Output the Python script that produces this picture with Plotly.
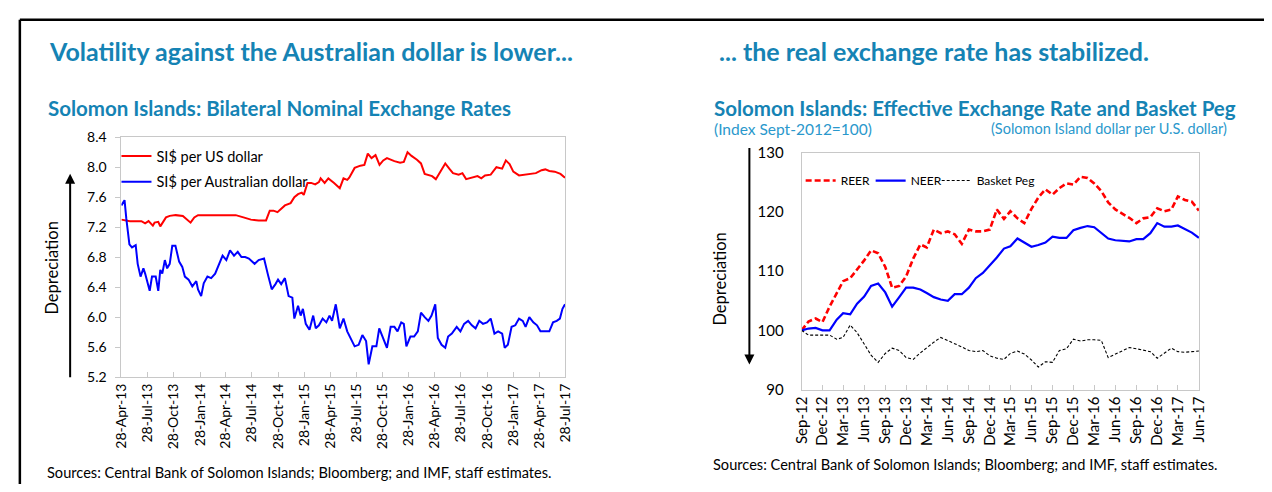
import pandas as pd
import plotly.graph_objects as go

# ---------------- data: left chart (bilateral nominal rates) ----------------
START_LEFT = "2013-04-28"
usd_days = [0, 30, 70, 83, 95, 110, 116, 129, 136, 143, 156, 169, 190, 215, 229, 242, 255, 268, 330, 400,
            427, 453, 480, 506, 519, 532, 546, 559, 572, 592, 605, 618, 631, 638, 651, 664, 678, 691, 697, 711,
            724, 744, 764, 777, 790, 797, 816, 836, 850, 862, 875, 889, 903, 916, 929, 942, 955, 975, 988, 1001,
            1015, 1034, 1048, 1061, 1074, 1087, 1100, 1114, 1133, 1147, 1160, 1180, 1193, 1206, 1226, 1246, 1259,
            1272, 1292, 1312, 1332, 1345, 1358, 1371, 1391, 1411, 1431, 1450, 1470, 1483, 1497, 1516, 1536, 1552]
usd_vals = [7.30, 7.28, 7.28, 7.25, 7.28, 7.22, 7.26, 7.27, 7.21, 7.25, 7.33, 7.35, 7.36, 7.35, 7.30, 7.26,
            7.33, 7.36, 7.36, 7.36, 7.33, 7.30, 7.29, 7.29, 7.42, 7.42, 7.40, 7.44, 7.49, 7.52, 7.60, 7.64,
            7.66, 7.63, 7.79, 7.79, 7.77, 7.80, 7.85, 7.79, 7.85, 7.79, 7.72, 7.85, 7.83, 7.86, 7.99, 8.02,
            8.03, 8.18, 8.12, 8.16, 8.03, 8.09, 8.12, 8.10, 8.08, 8.06, 8.07, 8.20, 8.15, 8.10, 8.05, 7.91,
            7.89, 7.88, 7.84, 7.93, 8.05, 7.98, 7.92, 7.90, 7.92, 7.84, 7.86, 7.88, 7.85, 7.89, 7.90, 8.00,
            7.98, 8.09, 8.04, 7.94, 7.89, 7.90, 7.91, 7.92, 7.96, 7.97, 7.95, 7.94, 7.91, 7.86]

aud_days = [0, 11, 17, 28, 37, 50, 57, 67, 77, 83, 99, 107, 120, 129, 136, 143, 152, 160, 169, 178, 189,
            202, 213, 222, 235, 248, 262, 268, 279, 288, 301, 314, 328, 341, 354, 367, 380, 394, 407, 420,
            433, 446, 466, 480, 499, 513, 526, 539, 548, 559, 572, 585, 598, 605, 618, 627, 635, 645, 658,
            671, 680, 691, 704, 717, 728, 737, 750, 764, 777, 790, 803, 816, 830, 843, 856, 865, 878, 892,
            902, 915, 929, 942, 955, 966, 979, 988, 997, 1011, 1024, 1037, 1048, 1061, 1074, 1085, 1098,
            1107, 1120, 1133, 1143, 1156, 1173, 1186, 1199, 1213, 1226, 1239, 1252, 1265, 1279, 1292, 1305,
            1318, 1332, 1341, 1352, 1365, 1378, 1391, 1404, 1414, 1427, 1441, 1454, 1466, 1480, 1497, 1510,
            1523, 1534, 1543, 1552]
aud_vals = [7.49, 7.56, 7.32, 6.97, 6.93, 6.96, 6.71, 6.54, 6.65, 6.58, 6.35, 6.54, 6.54, 6.35, 6.63, 6.58,
            6.76, 6.65, 6.71, 6.95, 6.95, 6.74, 6.67, 6.54, 6.50, 6.41, 6.48, 6.37, 6.28, 6.45, 6.54, 6.52,
            6.58, 6.71, 6.82, 6.76, 6.89, 6.82, 6.87, 6.80, 6.80, 6.78, 6.71, 6.76, 6.78, 6.56, 6.37, 6.44,
            6.50, 6.44, 6.52, 6.28, 6.26, 5.98, 6.15, 6.02, 6.11, 5.91, 5.83, 6.02, 5.85, 5.89, 5.98, 5.93,
            6.02, 5.95, 6.17, 5.85, 5.98, 5.81, 5.72, 5.61, 5.63, 5.76, 5.68, 5.37, 5.61, 5.61, 5.85, 5.72,
            5.59, 5.87, 5.87, 5.81, 5.93, 5.91, 5.61, 5.74, 5.74, 5.81, 6.06, 6.00, 5.95, 6.02, 6.17, 5.72,
            5.63, 5.59, 5.74, 5.78, 5.87, 5.81, 5.91, 5.95, 5.89, 5.85, 5.95, 5.91, 5.93, 5.98, 5.78, 5.81,
            5.78, 5.59, 5.63, 5.87, 5.89, 5.98, 5.95, 5.87, 6.00, 5.93, 5.89, 5.81, 5.81, 5.81, 5.93, 5.95,
            5.98, 6.11, 6.17]

left_tick_dates = ["2013-04-28", "2013-07-28", "2013-10-28", "2014-01-28", "2014-04-28", "2014-07-28",
                   "2014-10-28", "2015-01-28", "2015-04-28", "2015-07-28", "2015-10-28", "2016-01-28",
                   "2016-04-28", "2016-07-28", "2016-10-28", "2017-01-28", "2017-04-28", "2017-07-28"]
left_tick_text = ["28-Apr-13", "28-Jul-13", "28-Oct-13", "28-Jan-14", "28-Apr-14", "28-Jul-14",
                  "28-Oct-14", "28-Jan-15", "28-Apr-15", "28-Jul-15", "28-Oct-15", "28-Jan-16",
                  "28-Apr-16", "28-Jul-16", "28-Oct-16", "28-Jan-17", "28-Apr-17", "28-Jul-17"]
left_y_ticks = [5.2, 5.6, 6.0, 6.4, 6.8, 7.2, 7.6, 8.0, 8.4]

# ---------------- data: right chart (effective rates, monthly Sep-12..Jun-17) ----------------
months = pd.date_range("2012-09-01", "2017-06-01", freq="MS")
reer = [100.0, 101.5, 102.0, 101.4, 104.0, 106.4, 108.3, 108.8, 110.2, 111.8, 113.5, 113.0, 110.7, 107.2,
        107.5, 109.1, 112.1, 114.5, 114.0, 117.0, 116.4, 116.7, 116.2, 114.6, 117.0, 116.7, 116.7, 117.0,
        120.4, 118.8, 120.1, 118.9, 118.1, 120.5, 122.4, 123.8, 122.9, 124.0, 124.8, 124.6, 125.9, 125.7,
        124.8, 123.5, 121.6, 120.4, 119.7, 119.0, 118.1, 118.9, 119.1, 120.6, 120.1, 120.4, 122.6, 122.0,
        121.7, 120.2]
neer = [100.0, 100.3, 100.4, 100.0, 100.0, 101.8, 102.9, 102.7, 104.5, 105.7, 107.5, 107.9, 106.4, 104.0,
        105.6, 107.2, 107.2, 106.9, 106.3, 105.6, 105.2, 105.0, 106.1, 106.1, 107.2, 108.8, 109.7, 110.9,
        112.3, 113.8, 114.2, 115.5, 114.8, 114.1, 114.4, 114.8, 115.8, 115.6, 115.6, 116.9, 117.3, 117.6,
        117.4, 116.4, 115.5, 115.2, 115.1, 115.0, 115.4, 115.4, 116.4, 118.1, 117.5, 117.5, 117.7, 117.1,
        116.5, 115.6]
basket = [100.0, 99.2, 99.2, 99.2, 99.2, 98.5, 98.8, 100.9, 99.6, 97.7, 95.8, 94.6, 96.1, 97.0, 96.6, 95.4,
          95.1, 96.2, 97.1, 98.0, 98.8, 98.3, 97.7, 97.2, 96.6, 96.4, 96.6, 95.7, 95.3, 95.1, 96.1, 96.5,
          96.0, 95.0, 93.8, 94.7, 94.6, 96.6, 96.9, 98.5, 98.2, 98.4, 98.4, 98.3, 95.4, 96.0, 96.6, 97.1,
          96.9, 96.7, 96.4, 95.3, 96.2, 97.0, 96.4, 96.3, 96.4, 96.5]
right_tick_text = ["Sep-12", "Dec-12", "Mar-13", "Jun-13", "Sep-13", "Dec-13", "Mar-14", "Jun-14", "Sep-14",
                   "Dec-14", "Mar-15", "Jun-15", "Sep-15", "Dec-15", "Mar-16", "Jun-16", "Sep-16", "Dec-16",
                   "Mar-17", "Jun-17"]
right_y_ticks = [90, 100, 110, 120, 130]

# ---------------- geometry helpers ----------------
W, H = 1272, 492
def px(x):
    return x / W
def py(y):
    return 1 - y / H

FONT = "Lato"
TEAL = "#1583b4"
SUB = "#2a98cc"
GRID = "#c8c8c8"

start = pd.Timestamp(START_LEFT)
usd_dates = [start + pd.Timedelta(days=d) for d in usd_days]
aud_dates = [start + pd.Timedelta(days=d) for d in aud_days]

fig = go.Figure()
fig.add_trace(go.Scatter(x=usd_dates, y=usd_vals, mode="lines", name="SI$ per US dollar",
                         line=dict(color="#ff0000", width=2), xaxis="x", yaxis="y",
                         legend="legend", legendgroup="a"))
fig.add_trace(go.Scatter(x=aud_dates, y=aud_vals, mode="lines", name="SI$ per Australian dollar",
                         line=dict(color="#0000ff", width=2), xaxis="x", yaxis="y",
                         legend="legend", legendgroup="b"))
fig.add_trace(go.Scatter(x=months, y=reer, mode="lines", name="REER",
                         line=dict(color="#ff0000", width=2.6, dash="6px,3px"), xaxis="x2", yaxis="y2",
                         legend="legend2"))
fig.add_trace(go.Scatter(x=months, y=neer, mode="lines", name="NEER",
                         line=dict(color="#0000ff", width=2.2), xaxis="x2", yaxis="y2",
                         legend="legend3"))
fig.add_trace(go.Scatter(x=months, y=basket, mode="lines", name="Basket Peg",
                         line=dict(color="#000000", width=1.1, dash="3px,2px"), xaxis="x2", yaxis="y2",
                         legend="legend4"))

axis_common = dict(showline=True, linecolor=GRID, linewidth=1, mirror=True, showgrid=False,
                   zeroline=False, tickfont=dict(family=FONT, size=14, color="#000"))

def small_legend(x_left):
    return dict(x=px(x_left), y=py(162), xanchor="left", yanchor="top", orientation="h",
                bgcolor="rgba(0,0,0,0)", font=dict(family=FONT, size=12, color="#000"),
                itemwidth=30)

fig.update_layout(
    width=W, height=H, margin=dict(l=0, r=0, t=0, b=0),
    paper_bgcolor="white", plot_bgcolor="white",
    font=dict(family=FONT, color="#000"),
    xaxis=dict(axis_common, domain=[px(113), px(563)], anchor="y", type="date",
               range=[left_tick_dates[0], left_tick_dates[-1]],
               tickmode="array", tickvals=left_tick_dates, ticktext=left_tick_text,
               tickangle=-90, ticks="inside", ticklen=5, tickcolor=GRID),
    yaxis=dict(axis_common, domain=[py(381), py(132)], anchor="x", range=[5.2, 8.4],
               tickmode="array", tickvals=left_y_ticks,
               ticktext=[f"{v:.1f}" for v in left_y_ticks],
               ticks="outside", ticklen=5, tickcolor=GRID, ticklabelstandoff=6),
    xaxis2=dict(axis_common, domain=[px(803), px(1206)], anchor="y2", type="date",
                range=[months[0], months[-1]],
                tickmode="array", tickvals=list(months[::3]), ticktext=right_tick_text,
                tickfont=dict(family=FONT, size=15, color="#000"),
                tickangle=-90, ticks="inside", ticklen=5, tickcolor=GRID),
    yaxis2=dict(axis_common, domain=[py(394), py(148)], anchor="x2", range=[90, 130],
                tickmode="array", tickvals=right_y_ticks,
                tickfont=dict(family=FONT, size=15, color="#000"),
                ticks="", ticklabelstandoff=14),
    legend=dict(x=px(108), y=py(135), xanchor="left", yanchor="top", orientation="v",
                bgcolor="rgba(0,0,0,0)", font=dict(family=FONT, size=14.5, color="#000"),
                itemwidth=30, tracegroupgap=4),
    legend2=small_legend(802),
    legend3=small_legend(873),
    legend4=small_legend(940),
)

annotations = [
    dict(text="<b>Volatility against the Australian dollar is lower...</b>", x=px(38), y=py(43),
         font=dict(family=FONT, size=25, color=TEAL)),
    dict(text="<b>... the real exchange rate has stabilized.</b>", x=px(717), y=py(43),
         font=dict(family=FONT, size=25, color=TEAL)),
    dict(text="<b>Solomon Islands: Bilateral Nominal Exchange Rates</b>", x=px(37), y=py(102),
         font=dict(family=FONT, size=20.5, color=TEAL)),
    dict(text="<b>Solomon Islands: Effective Exchange Rate and Basket Peg</b>", x=px(712), y=py(102),
         font=dict(family=FONT, size=20.5, color=TEAL)),
    dict(text="(Index Sept-2012=100)", x=px(712), y=py(123),
         font=dict(family=FONT, size=15.5, color=SUB)),
    dict(text="(Solomon Island dollar per U.S. dollar)", x=px(1237), y=py(123), xanchor="right",
         font=dict(family=FONT, size=14.5, color=SUB)),
    dict(text="Sources: Central Bank of Solomon Islands; Bloomberg; and IMF, staff estimates.",
         x=px(35), y=py(480), font=dict(family=FONT, size=14.6, color="#000")),
    dict(text="Sources: Central Bank of Solomon Islands; Bloomberg; and IMF, staff estimates.",
         x=px(711), y=py(472), font=dict(family=FONT, size=14.6, color="#000")),
    dict(text="Depreciation", x=px(43), y=py(268), xanchor="center", textangle=-90,
         font=dict(family=FONT, size=16.5, color="#000")),
    dict(text="Depreciation", x=px(720), y=py(279), xanchor="center", textangle=-90,
         font=dict(family=FONT, size=16.5, color="#000")),
]
for a in annotations:
    a.setdefault("xanchor", "left")
    a.update(xref="paper", yref="paper", yanchor="middle", showarrow=False)
    fig.add_annotation(**a)

# direction arrows
fig.add_annotation(x=px(61), y=py(170), xref="paper", yref="paper", ax=0, ay=205,
                   showarrow=True, arrowhead=2, arrowsize=1, arrowwidth=2, arrowcolor="#000", text="")
fig.add_annotation(x=px(750), y=py(368), xref="paper", yref="paper", ax=0, ay=-218,
                   showarrow=True, arrowhead=2, arrowsize=1, arrowwidth=2, arrowcolor="#000", text="")

# outer frame (top and left edges)
fig.add_shape(type="line", xref="paper", yref="paper", x0=px(10), x1=1, y0=py(10), y1=py(10),
              line=dict(color="#000", width=2.5))
fig.add_shape(type="line", xref="paper", yref="paper", x0=px(10), x1=px(10), y0=py(10), y1=0,
              line=dict(color="#000", width=2.5))

fig.write_html("out.html", config={"displayModeBar": False},
               post_script="document.body.style.margin='0px';")
